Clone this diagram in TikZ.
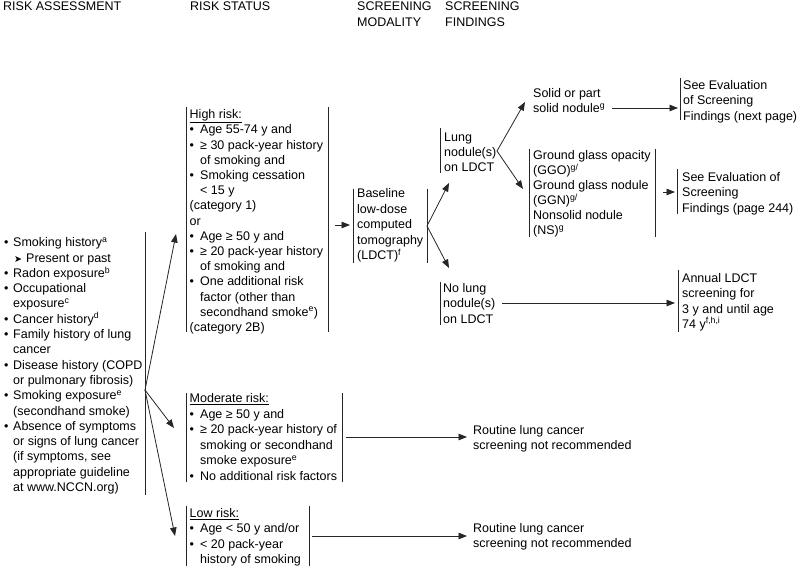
\documentclass[tikz,border=0pt]{standalone}
\usepackage{fontspec}
\setmainfont{Liberation Sans}
\newfontfamily\dejavu{DejaVu Sans}
\usetikzlibrary{arrows.meta}
\newcommand\bulx{\makebox[9pt][l]{•}}
\newcommand\bulb{\makebox[10.5pt][l]{•}}
\newcommand\indb{\hspace*{10.5pt}}
\newcommand\indx{\hspace*{9pt}}
\newcommand\supx[1]{\textsuperscript{#1}}
\begin{document}
\begin{tikzpicture}[x=1pt,y=-1pt,
  txt/.style={anchor=north west,inner sep=0pt,align=left,font=\fontsize{12.5}{15.2}\selectfont},
  bar/.style={line width=0.8pt,draw=black!85},
  arr/.style={line width=0.8pt,draw=black!85,-{Triangle[length=8.5pt,width=6.5pt]}}]
\fill[white] (0,0) rectangle (800,568);
\useasboundingbox (0,0) rectangle (800,568);

% headers
\node[txt] (h1) at (3,2) {RISK ASSESSMENT};
\node[txt] (h2) at (190,2) {RISK STATUS};
\node[txt,font=\fontsize{12.5}{16}\selectfont] (h3) at (357,2) {SCREENING\\MODALITY};
\node[txt,font=\fontsize{12.5}{16}\selectfont] (h4) at (445,2) {SCREENING\\FINDINGS};

% risk assessment list
\node[txt,font=\fontsize{12.5}{15.3}\selectfont] (assess) at (4,237.5) {%
\bulx Smoking history\supx{a}\\
\hspace*{10pt}\makebox[12pt][l]{\dejavu\fontsize{9.5}{9.5}\selectfont ➤}Present or past\\
\bulx Radon exposure\supx{b}\\
\bulx Occupational\\
\indx exposure\supx{c}\\
\bulx Cancer history\supx{d}\\
\bulx Family history of lung\\
\indx cancer\\
\bulx Disease history (COPD\\
\indx or pulmonary fibrosis)\\
\bulx Smoking exposure\supx{e}\\
\indx (secondhand smoke)\\
\bulx Absence of symptoms\\
\indx or signs of lung cancer\\
\indx (if symptoms, see\\
\indx appropriate guideline\\
\indx at www.NCCN.org)};
\draw[bar] (145,232) -- (145,495);

% high risk
\node[txt] (hi) at (189.5,109.4) {%
\underline{High risk:}\\
\bulb Age 55-74 y and\\
\bulb ≥ 30 pack-year history\\
\indb of smoking and\\
\bulb Smoking cessation\\
\indb < 15 y\\
(category 1)\\
or\\
\bulb Age ≥ 50 y and\\
\bulb ≥ 20 pack-year history\\
\indb of smoking and\\
\bulb One additional risk\\
\indb factor (other than\\
\indb secondhand smoke\supx{e})\\
(category 2B)};
\draw[bar] (186,107) -- (186,332);
\draw[bar] (328,107) -- (328,332);

% moderate risk
\node[txt,font=\fontsize{12.5}{15.5}\selectfont] (mod) at (189.5,393.4) {%
\underline{Moderate risk:}\\
\bulb Age ≥ 50 y and\\
\bulb ≥ 20 pack-year history of\\
\indb smoking or secondhand\\
\indb smoke exposure\supx{e}\\
\bulb No additional risk factors};
\draw[bar] (186,393) -- (186,482);
\draw[bar] (342,393) -- (342,482);

% low risk
\node[txt] (low) at (189.5,508.4) {%
\underline{Low risk:}\\
\bulb Age < 50 y and/or\\
\bulb < 20 pack-year\\
\indb history of smoking};
\draw[bar] (186,506) -- (186,566);
\draw[bar] (309,506) -- (309,566);

% left arrows
\coordinate (fork1) at (145,390);
\coordinate (hiIn) at (176,234);
\coordinate (modIn) at (174,428);
\coordinate (lowIn) at (175,536);
\draw[arr] (fork1) -- (hiIn);
\draw[arr] (fork1) -- (modIn);
\draw[arr] (fork1) -- (lowIn);

% baseline LDCT
\node[txt,font=\fontsize{12.5}{15.5}\selectfont] (base) at (357,188.4) {%
Baseline\\low-dose\\computed\\tomography\\(LDCT)\supx{f}};
\draw[bar] (353,189) -- (353,263);
\draw[bar] (427,189) -- (427,263);
\coordinate (hiOut) at (335,225);
\coordinate (baseIn) at (350,225);
\draw[arr] (hiOut) -- (baseIn);

% fork to lung nodule / no lung nodule
\coordinate (fork2) at (427,226);
\coordinate (lungIn) at (449,183);
\coordinate (nolungIn) at (449,268);
\draw[arr] (fork2) -- (lungIn);
\draw[arr] (fork2) -- (nolungIn);

\node[txt] (lung) at (444,132.4) {Lung\\nodule(s)\\on LDCT};
\draw[bar] (440,128) -- (440,173);
\node[txt] (nolung) at (443,283.4) {No lung\\nodule(s)\\on LDCT};
\draw[bar] (440,282) -- (440,325);

% lung nodule fork
\coordinate (fork3) at (497,151);
\coordinate (solidIn) at (525,102);
\coordinate (ggIn) at (523,189);
\draw[arr] (fork3) -- (solidIn);
\draw[arr] (fork3) -- (ggIn);

\node[txt] (solid) at (533,88.4) {Solid or part\\solid nodule\supx{g}};
\coordinate (solidOut) at (612,108);
\coordinate (eval1In) at (678,108);
\draw[arr] (solidOut) -- (eval1In);
\node[txt] (eval1) at (683,80.4) {See Evaluation\\of Screening\\Findings (next page)};
\draw[bar] (680,78) -- (680,120);

\node[txt,font=\fontsize{12.5}{15}\selectfont] (gg) at (533,150.4) {%
Ground glass opacity\\(GGO)\supx{g/}\\Ground glass nodule\\(GGN)\supx{g/}\\Nonsolid nodule\\(NS)\supx{g}};
\draw[bar] (529,149) -- (529,237);
\draw[bar] (655,149) -- (655,237);
\coordinate (ggOut) at (663,192);
\coordinate (eval2In) at (675,192);
\draw[arr] (ggOut) -- (eval2In);
\node[txt] (eval2) at (682,172.4) {See Evaluation of\\Screening\\Findings (page 244)};
\draw[bar] (677,169) -- (677,214);

% no lung nodule -> annual
\coordinate (nolungOut) at (502,303);
\coordinate (annualIn) at (675,303);
\draw[arr] (nolungOut) -- (annualIn);
\node[txt] (annual) at (682,273.4) {Annual LDCT\\screening for\\3 y and until age\\74 y\supx{f,h,i}};
\draw[bar] (678,270) -- (678,332);

% moderate / low -> routine
\coordinate (modOut) at (346,437);
\coordinate (rout1In) at (467,437);
\draw[arr] (modOut) -- (rout1In);
\node[txt] (rout1) at (473,425.4) {Routine lung cancer\\screening not recommended};
\coordinate (lowOut) at (312,536);
\coordinate (rout2In) at (467,536);
\draw[arr] (lowOut) -- (rout2In);
\node[txt] (rout2) at (473,523.4) {Routine lung cancer\\screening not recommended};
\end{tikzpicture}
\end{document}
